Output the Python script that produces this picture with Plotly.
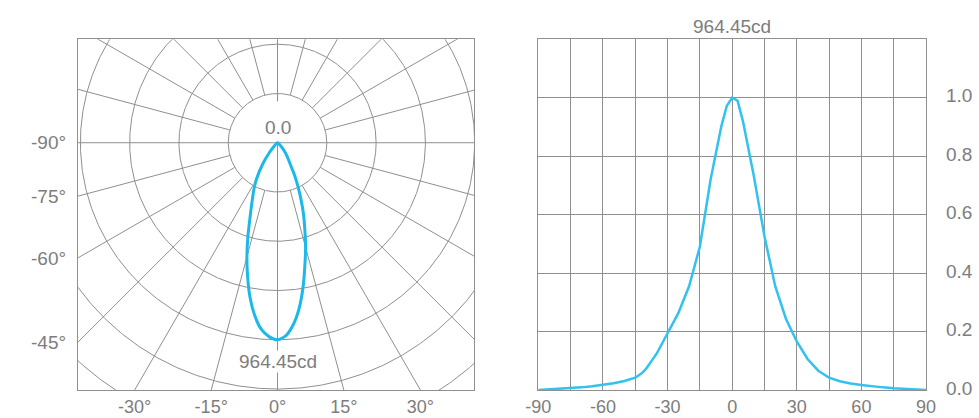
import numpy as np
import plotly.graph_objects as go

# ---------------- data ----------------
# Polar (left) light distribution: angle from nadir (deg) and relative intensity
polar_angles = [-60, -50, -45, -40, -35, -30, -27.5, -25, -22.5, -20, -17.5, -15, -12.5,
                -10, -7.5, -5, -2.5, 0, 2.5, 5, 7.5, 10, 12.5, 15, 17.5, 20, 22.5, 25,
                27.5, 30, 35, 40, 45, 50, 60]
polar_values = [0, 0.01, 0.025, 0.06, 0.13, 0.215, 0.255, 0.295, 0.345, 0.41, 0.50, 0.60,
                0.70, 0.80, 0.885, 0.95, 0.985, 1.0, 0.98, 0.925, 0.845, 0.745, 0.64, 0.55,
                0.46, 0.385, 0.31, 0.245, 0.19, 0.135, 0.085, 0.05, 0.025, 0.01, 0]

# Linear (right) relative intensity curve
lin_angles = [-90, -85, -80, -75, -70, -65, -60, -55, -50, -45, -42, -40, -35, -30, -25,
              -20, -15, -10, -5, -2.5, 0, 2.5, 5, 10, 15, 20, 25, 30, 35, 40, 45, 50,
              55, 60, 65, 70, 75, 80, 85, 90]
lin_values = [0.000, 0.002, 0.004, 0.006, 0.009, 0.013, 0.017, 0.023, 0.031, 0.042, 0.057,
              0.072, 0.125, 0.194, 0.263, 0.355, 0.49, 0.72, 0.903, 0.972, 1.0, 0.99, 0.92,
              0.735, 0.526, 0.355, 0.243, 0.166, 0.106, 0.066, 0.042, 0.030, 0.022, 0.017,
              0.012, 0.009, 0.006, 0.004, 0.002, 0.000]

max_label = "964.45cd"
center_label = "0.0"
polar_ring_values = [0.25, 0.5, 0.75, 1.0, 1.25, 1.5, 1.75]
polar_spoke_angles = list(range(0, 360, 15))
polar_left_ticks = [-90, -75, -60, -45]
polar_bottom_ticks = [-30, -15, 0, 15, 30]
lin_xticks = [-90, -60, -30, 0, 30, 60, 90]
lin_yticks = [0.0, 0.2, 0.4, 0.6, 0.8, 1.0]

# ---------------- style ----------------
W, H = 979, 418
GRID = "#8f8f8f"
TXT = "#7d7d7d"
CYAN = "#1cb8ea"
CYAN2 = "#33c1ee"
FONT = "Liberation Sans"
FS = 19
FS_X = 18

x_left, x_right = -1.012, 0.998
y_bot, y_top = -1.255, 0.525

fig = go.Figure()

# polar grid: rings
gx, gy = [], []
t = np.linspace(0, 2 * np.pi, 721)
for r in polar_ring_values:
    gx += list(r * np.cos(t)) + [None]
    gy += list(r * np.sin(t)) + [None]
# spokes
for a in polar_spoke_angles:
    g = np.radians(a)
    if a in (90, 270, 0):
        r0 = 0.0
    elif a == 180:
        r0 = 0.21
    else:
        r0 = polar_ring_values[0]
    r1 = 2.2
    gx += [r0 * np.sin(g), r1 * np.sin(g), None]
    gy += [-r0 * np.cos(g), -r1 * np.cos(g), None]

fig.add_trace(go.Scatter(x=gx, y=gy, mode="lines", line=dict(color=GRID, width=1),
                         hoverinfo="skip", showlegend=False, xaxis="x", yaxis="y"))

# polar curve
pa = np.radians(np.array(polar_angles, dtype=float))
pv = np.array(polar_values, dtype=float)
fig.add_trace(go.Scatter(x=pv * np.sin(pa), y=-pv * np.cos(pa), mode="lines",
                         line=dict(color=CYAN, width=3, shape="spline", smoothing=0.7),
                         showlegend=False, xaxis="x", yaxis="y"))

# linear curve
fig.add_trace(go.Scatter(x=lin_angles, y=lin_values, mode="lines",
                         line=dict(color=CYAN2, width=2.5),
                         showlegend=False, xaxis="x2", yaxis="y2", cliponaxis=False))

# tick positions for the polar frame (where spokes meet the frame)
left_tick_y = [-x_left * np.cos(np.radians(a)) / np.sin(np.radians(a)) for a in polar_left_ticks]
bottom_tick_x = [-y_bot * np.tan(np.radians(a)) for a in polar_bottom_ticks]

ydom = [(H - 390) / H, (H - 39.3) / H]

fig.update_layout(
    width=W, height=H, autosize=False,
    margin=dict(l=0, r=0, t=0, b=0, autoexpand=False),
    paper_bgcolor="white", plot_bgcolor="white",
    font=dict(family=FONT, size=FS, color=TXT),
    xaxis=dict(domain=[78 / W, 474.3 / W], range=[x_left, x_right], showgrid=False,
               zeroline=False, showline=True, mirror=True, linecolor=GRID, linewidth=1.2,
               tickmode="array", tickvals=bottom_tick_x,
               ticktext=[f"{a}°" for a in polar_bottom_ticks], automargin=False,
               tickfont=dict(size=FS_X),
               ticks="outside", ticklen=0, ticklabelstandoff=0, fixedrange=True),
    yaxis=dict(domain=ydom, range=[y_bot, y_top], showgrid=False, zeroline=False,
               showline=True, mirror=True, linecolor=GRID, linewidth=1.2,
               tickmode="array", tickvals=left_tick_y,
               ticktext=[f"{a}°" for a in polar_left_ticks], automargin=False,
               ticks="outside", ticklen=0, ticklabelstandoff=7, fixedrange=True),
    xaxis2=dict(domain=[538.3 / W, 926 / W], range=[-90, 90], anchor="y2",
                tickmode="array", tickvals=lin_xticks,
                ticktext=[f"{a}" for a in lin_xticks], automargin=False,
                tickfont=dict(size=FS_X),
                showgrid=True, gridcolor=GRID,
                gridwidth=1, zeroline=False, showline=True, mirror=True, linecolor=GRID,
                linewidth=1.2, ticks="outside", ticklen=0, ticklabelstandoff=0,
                minor=dict(dtick=15, tick0=0, showgrid=True, gridcolor=GRID, gridwidth=1),
                fixedrange=True),
    yaxis2=dict(domain=ydom, range=[0, 1.2], anchor="x2", side="right",
                tickmode="array", tickvals=lin_yticks,
                ticktext=[f"{v:.1f}" for v in lin_yticks], automargin=False,
                showgrid=True, gridcolor=GRID, gridwidth=1, zeroline=False,
                showline=True, mirror=True, linecolor=GRID, linewidth=1.2,
                ticks="outside", ticklen=0, ticklabelstandoff=15, ticklabelshift=-2,
                fixedrange=True),
    annotations=[
        dict(x=0, y=0.077, xref="x", yref="y", text=center_label, showarrow=False,
             font=dict(family=FONT, size=FS, color=TXT), yanchor="middle"),
        dict(x=0, y=-1.112, xref="x", yref="y", text=max_label, showarrow=False,
             font=dict(family=FONT, size=FS, color=TXT), yanchor="middle",
             bgcolor="white", borderpad=0),
        dict(x=0.5, y=(H - 27) / H, xref="x2 domain", yref="paper", text=max_label,
             showarrow=False, font=dict(family=FONT, size=FS, color=TXT),
             yanchor="middle"),
    ],
)

fig.write_html("out.html", config={"displayModeBar": False},
               post_script="document.body.style.margin='0';document.body.style.overflow='hidden';")
